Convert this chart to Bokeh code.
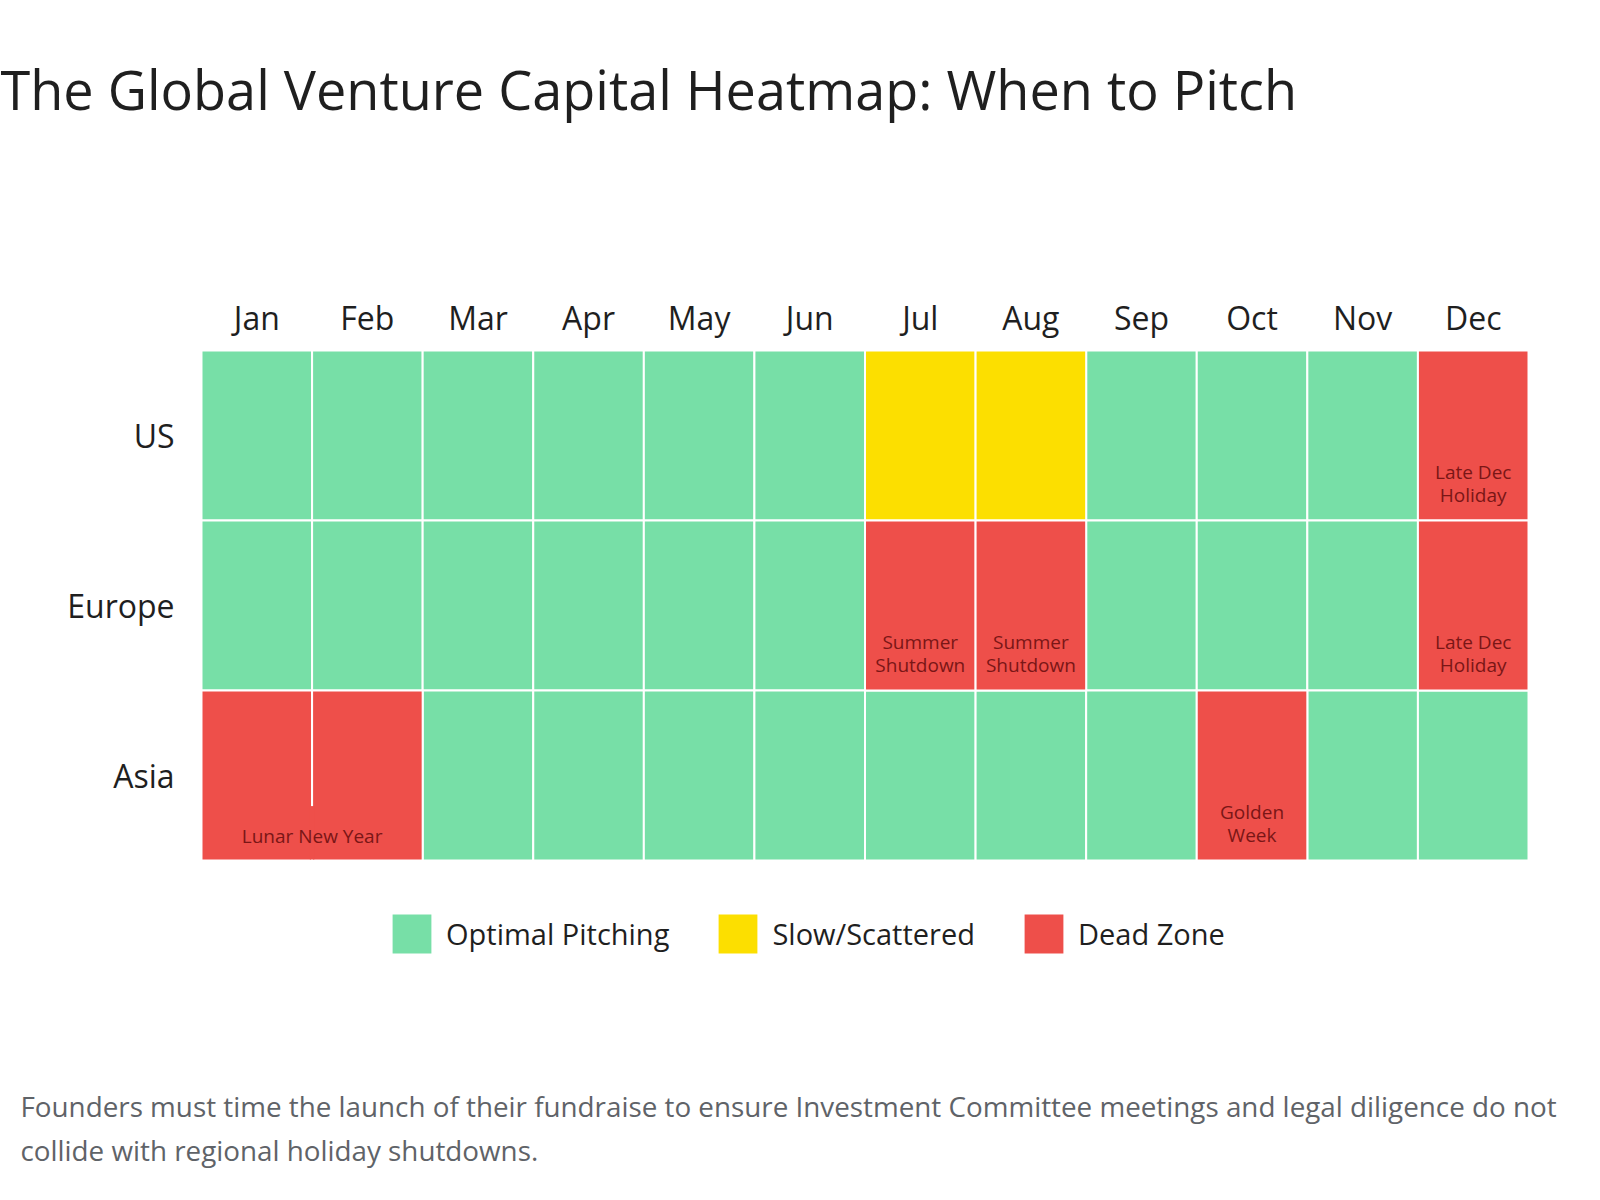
from bokeh.plotting import figure
from bokeh.models import Range1d, Legend, LegendItem, ColumnDataSource, Label
from bokeh.core.properties import value
from bokeh.embed import file_html
from bokeh.resources import INLINE

# ---------------- data ----------------
title_text = "The Global Venture Capital Heatmap: When to Pitch"
subtitle_lines = [
    "Founders must time the launch of their fundraise to ensure Investment Committee meetings and legal diligence do not",
    "collide with regional holiday shutdowns.",
]
months = ["Jan", "Feb", "Mar", "Apr", "May", "Jun", "Jul", "Aug", "Sep", "Oct", "Nov", "Dec"]
regions = ["US", "Europe", "Asia"]
status_names = ["Optimal Pitching", "Slow/Scattered", "Dead Zone"]
status_colors = ["#77DFA7", "#FCDF00", "#EE4F4A"]
# 0 = optimal, 1 = slow, 2 = dead
us_status = [0, 0, 0, 0, 0, 0, 1, 1, 0, 0, 0, 2]
europe_status = [0, 0, 0, 0, 0, 0, 2, 2, 0, 0, 0, 2]
asia_status = [2, 2, 0, 0, 0, 0, 0, 0, 0, 2, 0, 0]
region_status = [us_status, europe_status, asia_status]

note_region = ["US", "Europe", "Europe", "Europe", "Asia", "Asia"]
note_start = ["Dec", "Jul", "Aug", "Dec", "Jan", "Oct"]
note_end = ["Dec", "Jul", "Aug", "Dec", "Feb", "Oct"]
note_text = ["Late Dec\nHoliday", "Summer\nShutdown", "Summer\nShutdown",
             "Late Dec\nHoliday", "Lunar New Year", "Golden\nWeek"]

# ---------------- layout constants (pixels) ----------------
FONT = "Open Sans"
W, H = 1600, 1200
GRID_L, GRID_R, GRID_T, GRID_B = 201, 1528, 350, 860
nM, nR = len(months), len(regions)
cell_w = (GRID_R - GRID_L) / nM
cell_h = (GRID_B - GRID_T) / nR

p = figure(width=W, height=H,
           x_range=Range1d(-GRID_L / cell_w, nM + (W - GRID_R) / cell_w),
           y_range=Range1d(-(H - GRID_B) / cell_h, nR + GRID_T / cell_h),
           x_axis_type=None, y_axis_type=None, min_border=0,
           output_backend="svg", toolbar_location=None, title=None)
p.outline_line_color = None
p.background_fill_color = "white"
p.border_fill_color = "white"

def row_y(r):
    return nR - 1 - regions.index(r) + 0.5

# heatmap cells
renderers = []
for s, (name, col) in enumerate(zip(status_names, status_colors)):
    xs, ys = [], []
    for r, st in zip(regions, region_status):
        for m, v in zip(months, st):
            if v == s:
                xs.append(months.index(m) + 0.5)
                ys.append(row_y(r))
    src = ColumnDataSource(dict(x=xs, y=ys))
    rr = p.rect(x="x", y="y", width=1, height=1, source=src, fill_color=col,
                line_color="white", line_width=2)
    renderers.append(rr)

# merged spans: cover the inner separators near the bottom of the cell
mx, my = [], []
for r, a, b in zip(note_region, note_start, note_end):
    ia, ib = months.index(a), months.index(b)
    for k in range(ia + 1, ib + 1):
        mx.append(k)
        my.append(row_y(r) - 0.5 + 0.006 + 0.157)
p.rect(x=mx, y=my, width=0.04, height=0.314, fill_color=status_colors[2], line_color=None)

# cell annotations
tx = [(months.index(a) + months.index(b) + 1) / 2 for a, b in zip(note_start, note_end)]
ty = [row_y(r) - 0.5 for r in note_region]
p.text(x=tx, y=ty, text=note_text, text_align="center", text_baseline="bottom",
       y_offset=-12, text_font=value(FONT), text_font_size="19px", text_color="#7A1616",
       text_line_height=0.91)

# month labels (top) and region labels (left)
p.text(x=[i + 0.5 for i in range(nM)], y=[nR] * nM, text=months, text_align="center",
       text_baseline="alphabetic", y_offset=-33, text_font=value(FONT),
       text_font_size="32px", text_color="#1F1F1F")
p.text(x=[0] * nR, y=[row_y(r) for r in regions], text=regions, text_align="right",
       text_baseline="middle", x_offset=-27, text_font=value(FONT),
       text_font_size="32px", text_color="#1F1F1F")

# legend
legend = Legend(items=[LegendItem(label=n, renderers=[r]) for n, r in zip(status_names, renderers)],
                orientation="horizontal", location=(386, H - 959),
                glyph_width=51, glyph_height=51, label_height=51, label_standoff=9,
                spacing=43, padding=0, margin=0,
                label_text_font=FONT, label_text_font_size="29px", label_text_color="#1F1F1F",
                background_fill_alpha=0, border_line_alpha=0)
p.add_layout(legend, "center")

# title and subtitle
p.add_layout(Label(x=0, y=H - 88, x_units="screen", y_units="screen", text=title_text,
                   text_font=FONT, text_font_size="54px", text_color="#1F1F1F",
                   text_baseline="alphabetic"))
for i, line in enumerate(subtitle_lines):
    p.add_layout(Label(x=20, y=H - 1105 - 44 * i, x_units="screen", y_units="screen",
                       text=line, text_font=FONT, text_font_size="27.8px",
                       text_color="#5F6368", text_baseline="alphabetic"))

open("out.html", "w").write(file_html(p, INLINE))
